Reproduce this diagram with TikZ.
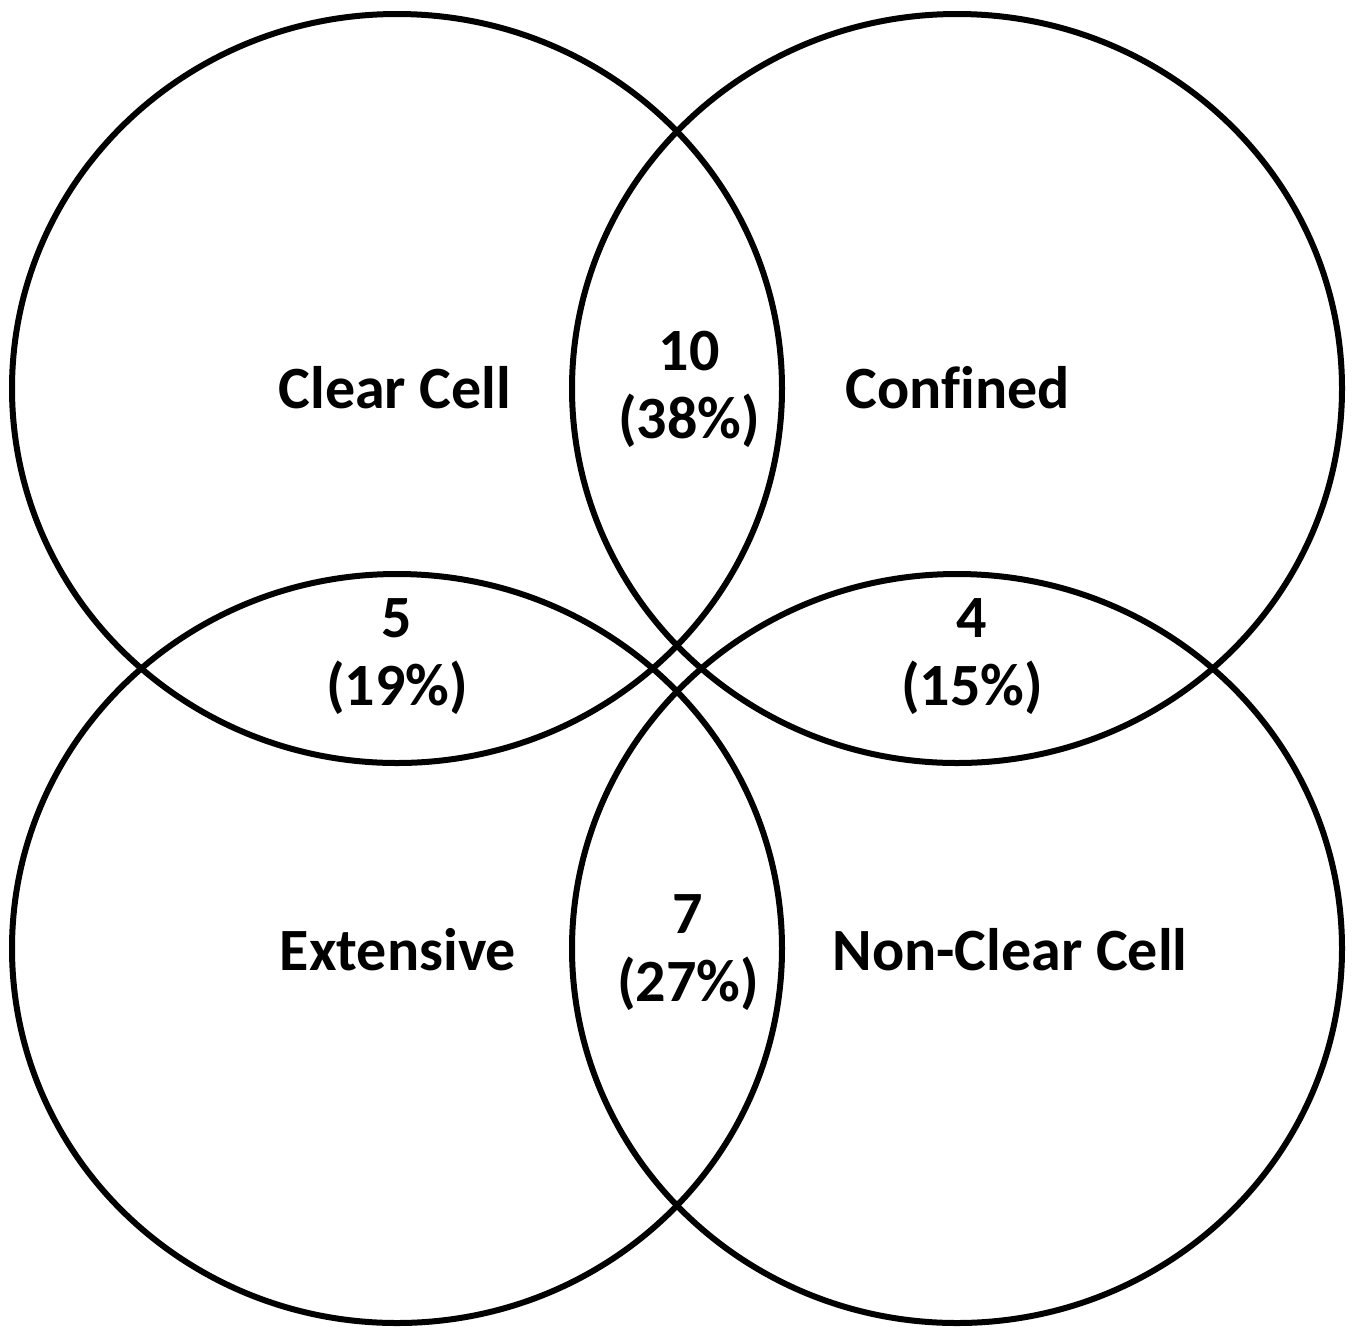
\documentclass[tikz,border=0pt]{standalone}
\usepackage{fontspec}
\setmainfont[Ligatures=NoCommon]{Carlito}
\usetikzlibrary{shapes.geometric}
\tikzset{
  venn/.style={ellipse, draw=black, line width=6pt, minimum width=770pt, minimum height=749pt, inner sep=0pt},
  lbl/.style={font=\bfseries\fontsize{60}{68}\selectfont, align=center, inner sep=0pt, text=black}
}
\begin{document}
\begin{tikzpicture}[x=1pt,y=-1pt]
\useasboundingbox[fill=white] (0,0) rectangle (1352,1326);
\node[venn] (c1) at (397,388.5) {};
\node[venn] (c2) at (957,388.5) {};
\node[venn] (c3) at (397,948.5) {};
\node[venn] (c4) at (957,948.5) {};
\node[lbl] (t1) at (395,388) {Clear Cell};
\node[lbl] (t2) at (958,388) {Confined};
\node[lbl] (t3) at (398,950) {Extensive};
\node[lbl] (t4) at (1010,950) {Non-Clear Cell};
\node[lbl] (n12) at (689,389) {10\\(38\%)};
\node[lbl] (n13) at (397,657) {5\\(19\%)};
\node[lbl] (n24) at (972,657) {4\\(15\%)};
\node[lbl] (n34) at (688,953) {7\\(27\%)};
\end{tikzpicture}
\end{document}
